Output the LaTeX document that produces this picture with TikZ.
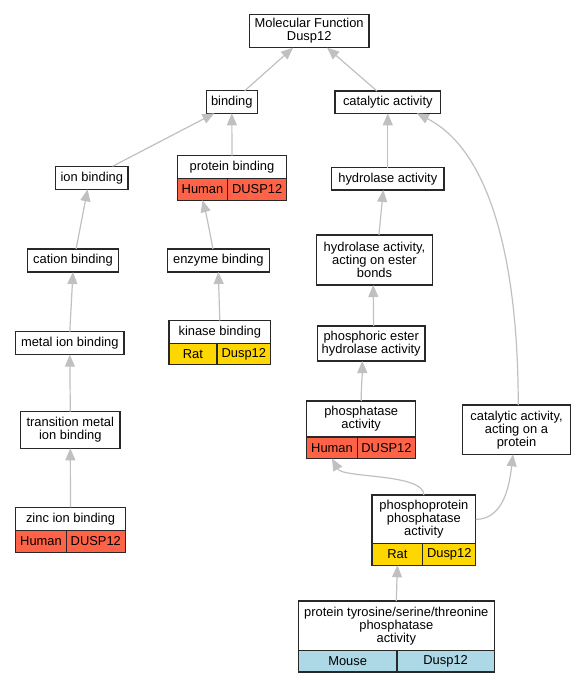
\documentclass[tikz,border=0pt]{standalone}
\usepackage{fontspec}
\setmainfont{Liberation Sans}
\usetikzlibrary{positioning,arrows.meta}
\definecolor{myred}{RGB}{255,99,71}
\definecolor{myyellow}{RGB}{255,215,0}
\definecolor{myblue}{RGB}{173,216,230}
\definecolor{mygray}{RGB}{192,192,192}
\definecolor{mydark}{RGB}{40,40,40}

\begin{document}
\begin{tikzpicture}[x=1bp, y=-1bp,
  term/.style={draw=mydark, line width=1.3bp, fill=white, align=center, inner sep=0pt, outer sep=0pt, font=\fontsize{12.9bp}{13bp}\selectfont},
  cell/.style={term, minimum height=21.5bp},
  link/.style={draw=mygray, line width=1.2bp, -{Triangle[length=12bp,width=10bp]}}]
\useasboundingbox (0,0) rectangle (585,683);
% Create nodes for the terms
\node[term, minimum width=119.7bp, minimum height=33.4bp] (mf) at (309.2,31) {Molecular Function\\Dusp12};
\node[term, minimum width=51bp, minimum height=22.6bp] (binding) at (231.8,102) {binding};
\node[term, minimum width=105.7bp, minimum height=22.3bp] (catalytic) at (387.8,102.2) {catalytic activity};
\node[term, minimum width=72.3bp, minimum height=23bp] (ionbinding) at (91.8,177.8) {ion binding};
\node[term, minimum width=109.4bp, minimum height=23bp] (proteinbinding) at (232,167.2) {protein binding};
\node[cell, fill=myred, minimum width=50.4bp, below right=0pt and 0pt of proteinbinding.south west] (pbhuman) {Human};
\node[cell, fill=myred, minimum width=59bp, right=0pt of pbhuman] (pbdusp) {DUSP12};
\node[term, minimum width=112.3bp, minimum height=22.3bp] (hydrolase) at (387.8,178.8) {hydrolase activity};
\node[term, minimum width=91.4bp, minimum height=23bp] (cation) at (73,260.5) {cation binding};
\node[term, minimum width=102bp, minimum height=23bp] (enzyme) at (218.3,260.5) {enzyme binding};
\node[term, minimum width=115.6bp, minimum height=50bp] (ester) at (374.5,260) {hydrolase activity,\\acting on ester\\bonds};
\node[term, minimum width=101.7bp, minimum height=22.6bp] (kinase) at (219.8,332) {kinase binding};
\node[cell, fill=myyellow, minimum width=48bp, below right=0pt and 0pt of kinase.south west] (kbrat) {Rat};
\node[cell, fill=myyellow, minimum width=53.7bp, right=0pt of kbrat] (kbdusp) {Dusp12};
\node[term, minimum width=107.7bp, minimum height=35bp] (phosphoric) at (371.2,343.5) {phosphoric ester\\hydrolase activity};
\node[term, minimum width=108.3bp, minimum height=23bp] (metal) at (69.8,343.2) {metal ion binding};
\node[term, minimum width=109bp, minimum height=36bp] (phosphatase) at (361.2,419) {phosphatase\\activity};
\node[cell, fill=myred, minimum width=50.6bp, below right=0pt and 0pt of phosphatase.south west] (pahuman) {Human};
\node[cell, fill=myred, minimum width=58.4bp, right=0pt of pahuman] (padusp) {DUSP12};
\node[term, minimum width=108.4bp, minimum height=49.3bp] (acting) at (516.5,429.7) {catalytic activity,\\acting on a\\protein};
\node[term, minimum width=99.3bp, minimum height=36.6bp] (transition) at (70.3,430) {transition metal\\ion binding};
\node[term, minimum width=109.6bp, minimum height=23.4bp] (zinc) at (70.5,519) {zinc ion binding};
\node[cell, fill=myred, minimum width=50.6bp, below right=0pt and 0pt of zinc.south west] (zbhuman) {Human};
\node[cell, fill=myred, minimum width=59bp, right=0pt of zbhuman] (zbdusp) {DUSP12};
\node[term, minimum width=103.7bp, minimum height=48.7bp] (phosphoprotein) at (423.9,519.4) {phosphoprotein\\phosphatase\\activity};
\node[cell, fill=myyellow, minimum width=50.7bp, below right=0pt and 0pt of phosphoprotein.south west] (pprat) {Rat};
\node[cell, fill=myyellow, minimum width=53bp, right=0pt of pprat] (ppdusp) {Dusp12};
\node[term, minimum width=196bp, minimum height=49.3bp] (tyrosine) at (396.3,625.7) {protein tyrosine/serine/threonine\\phosphatase\\activity};
\node[cell, fill=myblue, minimum width=98.7bp, below right=0pt and 0pt of tyrosine.south west] (ptmouse) {Mouse};
\node[cell, fill=myblue, minimum width=97.3bp, right=0pt of ptmouse] (ptdusp) {Dusp12};

% Connect child terms to parents
\draw[link] (binding.41) -- (mf.226);
\draw[link] (catalytic.134) -- (mf.317);
\draw[link] (ionbinding.29) -- (binding.213);
\draw[link] (proteinbinding.north) -- (binding.south);
\draw[link] (cation.75) -- (ionbinding.250);
\draw[link] (enzyme.115) .. controls +(-2.5,-14) and +(3.5,13) .. (pbhuman.south);
\draw[link] (metal.north) -- (cation.south);
\draw[link] (kinase.north) -- (enzyme.south);
\draw[link] (transition.north) -- (metal.south);
\draw[link] (zinc.north) -- (transition.south);
\draw[link] (hydrolase.north) -- (catalytic.south);
\draw[link] (ester.80) -- (hydrolase.248);
\draw[link] (phosphoric.82) -- (ester.267);
\draw[link] (phosphatase.north) .. controls +(0,-15) and +(0,15) .. (phosphoric.243);
\draw[link] (phosphoprotein.north) .. controls +(0,-22) and +(11,20) .. (pahuman.south);
\draw[link] (phosphoprotein.east) .. controls +(30,0) and +(-3,25) .. (acting.262);
\draw[link] (acting.86) .. controls +(0,-145) and +(73,37) .. (catalytic.339);
\draw[link] (tyrosine.north) -- (pprat.south);
\end{tikzpicture}
\end{document}
